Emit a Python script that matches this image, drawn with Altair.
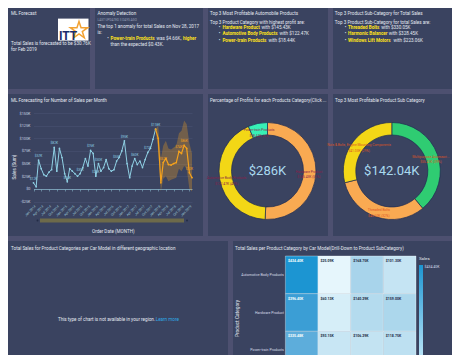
import altair as alt
import pandas as pd

FONT = "Roboto"
GAP = "#4d5070"
PANEL = "#3a4360"
TXT = "#e4e9f1"
YEL = "#ffe21a"
MUTED = "#98a2b8"

# ---------------- text content ----------------
TITLES = {
    "ml": "ML Forecast",
    "anom": "Anomaly Detection",
    "prof": "Top 3 Most Profitable Automobile Products",
    "sub": "Top 3 Product Sub-Category for Total Sales",
    "line": "ML Forecasting for Number of Sales per Month",
    "d1": "Percentage of Profits for each Products Category(Click ...",
    "d2": "Top 3 Most Profitable Product Sub Category",
    "map": "Total Sales for Product Categories per Car Model in different geographic location",
    "heat": "Total Sales per Product Category by Car Model(Drill-Down to Product SubCategory)",
}
FORECAST_TEXT = ["Total Sales is forecasted to be $30.76K", "for Feb 2019"]
LOGO_TEXT = "ITT"
ANOM_UPDATED = "LAST UPDATED 3 DAYS AGO"
ANOM_TEXT = ["The top 1 anomaly for total Sales on Nov 28, 2017", "is:"]
ANOM_ITEM = ["Power-train Products", " was $4.66K, ", "higher"]
ANOM_ITEM2 = "than the expected $0.43K."
PROF_INTRO = "Top 3 Product Category with highest profit are:"
PROF_NAMES = ["Hardware Product", "Automotive Body Products", "Power-train Products"]
PROF_VALUES = [145.43, 122.47, 18.44]
SUB_INTRO = "Top 3 Product Sub-Category for total Sales are:"
SUB_NAMES = ["Threaded Bolts", "Harmonic Balancer", "Windows Lift Motors"]
SUB_VALUES = [330.05, 328.45, 223.06]
MAP_MSG = ["This type of chart is not available in your region.", "Learn more"]

# ---------------- line chart data (thousands) ----------------
START_MONTH = "2014-01-01"
ACTUAL_K = [12, 4, 57, 40, 28, 25, 33, 38, 82, 35,
            80, 62, 30, 14, 40, 35, 30, 25, 30, 42,
            60, 45, 76, 70, 25, 50, 35, 42, 58, 40,
            35, 38, 55, 62, 75, 95, 50, 22, 45, 60,
            48, 55, 42, 58, 72, 80, 98, 118]
FORECAST_K = [118, 100, 12, 52, 60, 48, 47, 50, 52, 74, 70, 86, 80, 32, 22]
UPPER_K = [118, 125, 60, 85, 95, 80, 78, 82, 85, 110, 115, 135, 128, 90, 70]
LOWER_K = [118, 75, -5, 20, 25, 15, 18, 20, 22, 40, 35, 45, 40, 0, -5]
ACT_LABEL_IDX = [0, 2, 8, 13, 18, 22, 24, 25, 32, 35, 39, 44, 47]
FC_LABEL_IDX = [3, 9, 11, 13]
Y_TICKS_K = [-25, 0, 25, 50, 75, 100, 125, 150]
X_TITLE = "Order Date (MONTH)"
Y_TITLE = "Sales (Sum)"

# ---------------- donuts ----------------
D1_NAMES = ["Hardware Product", "Automotive Body Products", "Power-train Products"]
D1_VALUES = [145.43, 122.47, 18.44]
D1_COLORS = ["#f9aa52", "#f3d716", "#37f0b5"]
D1_TOTAL = "$286K"
D2_NAMES = ["Multipurpose Accessori...", "Threaded Bolts", "Nuts & Bolts, Engine Mounting Components"]
D2_VALUES = [55.41, 45.60, 41.03]
D2_COLORS = ["#2fcc72", "#f9aa52", "#f3d716"]
D2_TOTAL = "$142.04K"

# ---------------- heatmap ----------------
HEAT_CATS = ["Automotive Body Products", "Hardware Product", "Power-train Products"]
HEAT_MODELS = ["Model A", "Model B", "Model C", "Model D"]
HEAT_K = [[434.40, 25.09, 168.75, 101.30],
          [396.40, 60.13, 140.29, 159.00],
          [335.48, 93.15, 106.29, 118.75]]
HEAT_TITLE_Y = "Product Category"
LEGEND_TITLE = "Sales"

ONE = pd.DataFrame({"k": [0]})


def cw(ch):
    if ch in "il|'.,:;!I":
        return 0.26
    if ch in "fjrt()-[]":
        return 0.34
    if ch == " ":
        return 0.25
    if ch in "mw":
        return 0.8
    if ch in "MW":
        return 0.88
    if ch.isdigit() or ch == "$":
        return 0.56
    if ch.isupper():
        return 0.63
    return 0.53


def tw(s, size, bold=False):
    return sum(cw(c) for c in s) * size * (1.04 if bold else 1.0)


def txt(s, x, y, size=4.6, color=TXT, bold=False, align="left", baseline="middle"):
    return alt.Chart(pd.DataFrame({"t": [s]})).mark_text(
        align=align, baseline=baseline, fontSize=size, color=color,
        fontWeight="bold" if bold else "normal", font=FONT,
    ).encode(x=alt.value(x), y=alt.value(y), text="t:N")


def segs(parts, x, y, size=4.6):
    out = []
    cx = x
    for s, col, b in parts:
        lead = len(s) - len(s.lstrip(" "))
        out.append(txt(s.strip(" "), cx + lead * 0.25 * size, y, size, col, b))
        cx += tw(s, size, b)
    return out


def rect(x, x2, y, y2, color):
    return alt.Chart(ONE).mark_rect(color=color).encode(
        x=alt.value(x), x2=alt.value(x2), y=alt.value(y), y2=alt.value(y2))


# ================= Row 1 =================
STAR = "M0,-1L0.2245,-0.309L0.951,-0.309L0.363,0.118L0.588,0.809L0,0.382L-0.588,0.809L-0.363,0.118L-0.951,-0.309L-0.2245,-0.309Z"
p1 = alt.layer(
    txt(TITLES["ml"], 3, 6),
    rect(50, 80.5, 10.6, 32.6, "#ffffff"),
    alt.Chart(ONE).mark_point(shape=STAR, size=330, filled=False, color="#f2a233",
                              strokeWidth=1.5, opacity=1).encode(x=alt.value(71), y=alt.value(22.5)),
    txt(LOGO_TEXT, 51, 31.5, size=12, color="#1b2d6c", bold=True, baseline="alphabetic"),
    txt(FORECAST_TEXT[0], 3, 36.4),
    txt(FORECAST_TEXT[1], 3, 42.2),
).properties(width=82, height=81)

p2 = alt.layer(
    txt(TITLES["anom"], 2.5, 6),
    txt(ANOM_UPDATED, 2.5, 11.6, size=3.1, color=MUTED),
    txt(ANOM_TEXT[0], 2.5, 19.3),
    txt(ANOM_TEXT[1], 2.5, 25.1),
    txt("•", 12.3, 30.9),
    *segs([(ANOM_ITEM[0], YEL, True), (ANOM_ITEM[1], TXT, False), (ANOM_ITEM[2], YEL, True)], 15.5, 30.9),
    txt(ANOM_ITEM2, 15.5, 36.7),
).properties(width=108, height=81)

prof_layers = [txt(TITLES["prof"], 2, 6), txt(PROF_INTRO, 2, 14.5)]
for i, (n, v) in enumerate(zip(PROF_NAMES, PROF_VALUES)):
    yy = 20.3 + i * 6.15
    prof_layers.append(txt("•", 10.8, yy))
    prof_layers += segs([(n, YEL, True), (" with $%.2fK" % v, TXT, False)], 14.4, yy)
p3 = alt.layer(*prof_layers).properties(width=120, height=81)

sub_layers = [txt(TITLES["sub"], 1.8, 6), txt(SUB_INTRO, 1.8, 14.5)]
for i, (n, v) in enumerate(zip(SUB_NAMES, SUB_VALUES)):
    yy = 20.3 + i * 6.15
    sub_layers.append(txt("•", 11.8, yy))
    sub_layers += segs([(n, YEL, True), (" with $%.2fK" % v, TXT, False)], 15.0, yy)
p4 = alt.layer(*sub_layers).properties(width=119, height=81)

row1 = alt.hconcat(p1, p2, p3, p4, spacing=5, bounds="flush")

# ================= Row 2 =================
n_act = len(ACTUAL_K)
months = pd.date_range(START_MONTH, periods=n_act + len(FORECAST_K) - 1, freq="MS").strftime("%Y-%m-%d").tolist()
act_df = pd.DataFrame({"date": months[:n_act], "v": [k * 1000 for k in ACTUAL_K]})
act_lab = pd.DataFrame({"date": [months[i] for i in ACT_LABEL_IDX],
                        "v": [ACTUAL_K[i] * 1000 for i in ACT_LABEL_IDX],
                        "lab": ["$%dK" % ACTUAL_K[i] for i in ACT_LABEL_IDX]})
fc_dates = months[n_act - 1:]
fc_df = pd.DataFrame({"date": fc_dates, "v": [k * 1000 for k in FORECAST_K],
                      "lo": [k * 1000 for k in LOWER_K], "hi": [k * 1000 for k in UPPER_K]})
fc_lab = pd.DataFrame({"date": [fc_dates[i] for i in FC_LABEL_IDX],
                       "v": [FORECAST_K[i] * 1000 for i in FC_LABEL_IDX],
                       "lab": ["$%dK" % FORECAST_K[i] for i in FC_LABEL_IDX]})

BLUE = "#8fd0e4"
ORANGE = "#f5a21c"
xsc = alt.Scale(type="utc", range=[25.5, 184], nice=False)
xax = alt.Axis(format="%b %Y", tickCount=alt.TimeIntervalStep(interval="month", step=3),
               labelAngle=315, labelOverlap=False, labelFontSize=3.4, labelColor="#9cc6d6",
               labelPadding=13, offset=-47, domainColor="#86b3c8", domainWidth=0.8,
               tickColor="#86b3c8", tickSize=2, tickWidth=0.6, grid=False,
               title=X_TITLE, titleFontSize=4.6, titleColor=TXT, titleFontWeight="normal",
               titleY=42, titleBaseline="middle")
ysc = alt.Scale(domain=[-25000, 150000], range=[107.5, 19], nice=False, zero=False)
yax = alt.Axis(values=[k * 1000 for k in Y_TICKS_K],
               labelExpr="datum.value == 0 ? '$0' : (datum.value < 0 ? '-$' : '$') + format(abs(datum.value)/1000, 'd') + 'K'",
               offset=-25, domain=False, ticks=False, labelPadding=3, labelFontSize=3.8,
               labelColor="#c9d1e0", gridColor="#4a5474", gridWidth=0.5,
               title=Y_TITLE, titleFontSize=4.6, titleColor=TXT, titleFontWeight="normal",
               titleX=-19, titleY=72.5, titleBaseline="middle")
X = alt.X("date:T", scale=xsc, axis=xax)
Y = alt.Y("v:Q", scale=ysc, axis=yax)

band = alt.Chart(fc_df).mark_area(color=ORANGE, opacity=0.3).encode(
    x=X, y=alt.Y("lo:Q", scale=ysc, axis=yax), y2="hi:Q")
act_line = alt.Chart(act_df).mark_line(color=BLUE, strokeWidth=1).encode(x=X, y=Y)
act_pts = alt.Chart(act_df).mark_circle(color=BLUE, size=3, opacity=1).encode(x=X, y=Y)
fc_line = alt.Chart(fc_df).mark_line(color=ORANGE, strokeWidth=1.2).encode(x=X, y=Y)
fc_pts = alt.Chart(fc_df).mark_circle(color=ORANGE, size=3, opacity=1).encode(x=X, y=Y)
act_txt = alt.Chart(act_lab).mark_text(color=BLUE, fontSize=3.2, dy=-4).encode(x=X, y=Y, text="lab:N")
fc_txt = alt.Chart(fc_lab).mark_text(color=ORANGE, fontSize=3.2, dy=-4).encode(x=X, y=Y, text="lab:N")

p5 = alt.layer(
    band, act_line, act_pts, fc_line, fc_pts, act_txt, fc_txt,
    txt(TITLES["line"], 3, 6.5),
    rect(32, 176, 124.5, 128.5, "#6d6a4a"),
    alt.Chart(ONE).mark_circle(color="#232c45", size=4, opacity=1).encode(x=alt.value(29.5), y=alt.value(126.5)),
    alt.Chart(ONE).mark_circle(color="#232c45", size=4, opacity=1).encode(x=alt.value(179), y=alt.value(126.5)),
).properties(width=195, height=142)


def donut(names, values, colors, label_color, total_text, title, w, cx, cy=77):
    tot = sum(values)
    df = pd.DataFrame({
        "name": names, "value": values, "idx": list(range(len(names))),
        "label": ["%s\n$%.2fK (%d%%)" % (n, v, round(100 * v / tot)) for n, v in zip(names, values)],
    })
    th = alt.Theta("value:Q", stack=True)
    od = alt.Order("idx:Q")
    arc = alt.Chart(df).mark_arc(outerRadius=48.5, innerRadius=36, stroke="#1e2b52",
                                 strokeWidth=0.7).encode(
        theta=th, order=od, x=alt.value(cx), y=alt.value(cy),
        color=alt.Color("name:N", scale=alt.Scale(domain=names, range=colors), legend=None))
    lab = alt.Chart(df).mark_text(radius=41.5, fontSize=3.3, color=label_color,
                                  lineBreak="\n", align="center", baseline="middle").encode(
        theta=th, order=od, x=alt.value(cx), y=alt.value(cy), detail="name:N", text="label:N")
    return alt.layer(
        arc, lab,
        txt(total_text, cx, cy, size=13, color="#a9d9ef", align="center"),
        txt(title, 2, 6.5),
    ).properties(width=w, height=142)


p6 = donut(D1_NAMES, D1_VALUES, D1_COLORS, "#8a1f4a", D1_TOTAL, TITLES["d1"], 120, 59.5)
p7 = donut(D2_NAMES, D2_VALUES, D2_COLORS, "#dc5426", D2_TOTAL, TITLES["d2"], 119, 58.8)

row2 = alt.hconcat(p5, p6, p7, spacing=5, bounds="flush").resolve_scale(
    theta="independent", color="independent")

# ================= Row 3 =================
msg_w = tw(MAP_MSG[0], 4.6) + tw(MAP_MSG[1], 4.6)
mx = 110 - msg_w / 2
p8 = alt.layer(
    txt(TITLES["map"], 3, 7.5),
    txt(MAP_MSG[0], mx, 79),
    txt(MAP_MSG[1], mx + tw(MAP_MSG[0], 4.6) + 0.6, 79, color="#2ea8e6"),
).properties(width=220, height=114)

heat_rows = []
for i, c in enumerate(HEAT_CATS):
    for j, m in enumerate(HEAT_MODELS):
        heat_rows.append({"cat": c, "model": m, "sales": HEAT_K[i][j] * 1000,
                          "label": "$%.2fK" % HEAT_K[i][j]})
heat_df = pd.DataFrame(heat_rows)
hx = alt.Scale(range=[52.4, 183], paddingInner=0, paddingOuter=0)
hy = alt.Scale(range=[15, 128], paddingInner=0, paddingOuter=0)
hyax = alt.Axis(offset=-52.4, domain=False, ticks=False, labelPadding=2, labelFontSize=3.6,
                labelColor="#d5dce8", title=HEAT_TITLE_Y, titleFontSize=4.8, titleColor=TXT,
                titleFontWeight="normal", titleX=-48.4, titleY=77, titleBaseline="middle")
HEAT_LOW, HEAT_HIGH = "#e8f7fd", "#1c95d2"
hmax = max(max(r) for r in HEAT_K)
heat_rect = alt.Chart(heat_df).mark_rect(clip=True, stroke="#ffffff", strokeWidth=0.6,
                                         strokeOpacity=0.55).encode(
    x=alt.X("model:N", sort=HEAT_MODELS, scale=hx, axis=None),
    y=alt.Y("cat:N", sort=HEAT_CATS, scale=hy, axis=hyax),
    color=alt.Color("sales:Q", scale=alt.Scale(domain=[20000, hmax * 1000], range=[HEAT_LOW, HEAT_HIGH]),
                    legend=None))
heat_txt = alt.Chart(heat_df).mark_text(clip=True, align="left", baseline="top", dx=2.5, dy=3,
                                        fontSize=3.5, fontWeight="bold").encode(
    x=alt.X("model:N", sort=HEAT_MODELS, scale=hx, axis=None, bandPosition=0),
    y=alt.Y("cat:N", sort=HEAT_CATS, scale=hy, axis=hyax, bandPosition=0),
    text="label:N",
    color=alt.condition("datum.sales > 300000", alt.value("#ffffff"), alt.value("#1b2a44")))
grad = alt.Chart(ONE).mark_rect(
    color=alt.LinearGradient(gradient="linear",
                             stops=[alt.GradientStop(color=HEAT_HIGH, offset=0),
                                    alt.GradientStop(color="#b5e2f6", offset=1)],
                             x1=0, x2=0, y1=0, y2=1)
).encode(x=alt.value(186), x2=alt.value(190), y=alt.value(24), y2=alt.value(114))

p9 = alt.layer(
    heat_rect, heat_txt, grad,
    txt(LEGEND_TITLE, 186, 18, size=4.4),
    txt("$%.2fK" % hmax, 191.5, 26, size=3.5, color="#d5dce8"),
    txt(TITLES["heat"], 2, 7.5),
).properties(width=219, height=114)

row3 = alt.hconcat(p8, p9, spacing=5, bounds="flush").resolve_scale(color="independent")

chart = alt.vconcat(row1, row2, row3, spacing=5).resolve_scale(
    color="independent", theta="independent"
).properties(background=GAP, padding=0).configure(font=FONT).configure_view(
    fill=PANEL, strokeWidth=0)

chart.save("out.html", embed_options={"renderer": "svg", "actions": False})
